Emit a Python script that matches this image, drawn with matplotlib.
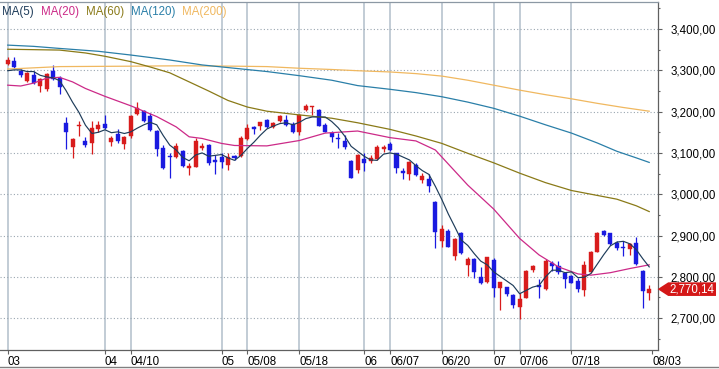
import matplotlib
matplotlib.use("Agg")
import matplotlib.pyplot as plt
from matplotlib.patches import Polygon
from matplotlib.lines import Line2D
import numpy as np

plt.rcParams['font.family'] = ['Liberation Sans', 'DejaVu Sans']

# ---------------- data ----------------
opens = [3315, 3322.5, 3298, 3275, 3289, 3263, 3254, 3298, 3282, 3172,
         3115, 3164, 3129.5, 3125, 3158, 3170, 3127, 3145, 3121.6, 3141.6,
         3194, 3201.5, 3190, 3154, 3112.6, 3092.5, 3089, 3104.6, 3062.7, 3066.6,
         3111, 3119, 3082.8, 3089, 3070.7, 3093, 3093.7, 3133, 3162, 3165,
         3179.7, 3162, 3178, 3179.7, 3169, 3150, 3204, 3211, 3204, 3167.5,
         3147.5, 3137, 3129.5, 3080.4, 3058.6, 3085, 3081, 3084.5, 3109, 3121.6,
         3099, 3056, 3049, 3070.7, 3034.4, 3036, 2981.8, 2887.4, 2911.6, 2850.4,
         2905.3, 2828.6, 2843, 2798.8, 2788, 2840.7, 2773.6, 2774.6, 2756, 2727.6,
         2749.4, 2816.5, 2780, 2769.7, 2832.7, 2825.4, 2808.5, 2801.9, 2789, 2768,
         2811.6, 2860.8, 2910.9, 2905.3, 2881.1, 2872.9, 2866.6, 2882.6, 2814.8, 2761.5]
highs = [3332, 3333, 3302, 3295, 3299, 3281, 3293, 3313, 3286, 3186,
         3135, 3177, 3139, 3177, 3177, 3192, 3141, 3157, 3141.6, 3192,
         3222.5, 3204, 3196, 3155, 3119, 3099, 3124.7, 3107, 3075, 3135,
         3123, 3121.6, 3095, 3100.5, 3099, 3095, 3141, 3169, 3165, 3175.5,
         3182, 3175.5, 3192, 3192, 3175.5, 3194, 3218.4, 3213.6, 3206, 3172,
         3154, 3147.5, 3143, 3083, 3096.6, 3099, 3095, 3119, 3119, 3127,
         3100.5, 3064, 3080.4, 3076.3, 3050.6, 3049, 2984.3, 2925.4, 2915, 2893.2,
         2909.2, 2848.7, 2844.8, 2824.5, 2848.7, 2844.8, 2788, 2776, 2758.4, 2761.5,
         2816.5, 2828.6, 2794, 2842.4, 2838.3, 2838.3, 2811.6, 2804.4, 2797.1, 2839,
         2862.5, 2909.2, 2913.3, 2906.8, 2887.4, 2886.7, 2882.6, 2897.1, 2816.5, 2780]
lows = [3313, 3306, 3284.5, 3271, 3266, 3248, 3251, 3276.5, 3242, 3109,
        3088, 3141, 3115, 3097, 3151, 3158, 3117, 3124, 3109, 3137,
        3192, 3175.5, 3154, 3092.5, 3062, 3040, 3087, 3067, 3046.5, 3066,
        3107, 3070.7, 3049, 3062.7, 3058.6, 3083, 3089, 3131, 3145, 3155,
        3159.6, 3159.6, 3175.5, 3165, 3149, 3143, 3202, 3192, 3165, 3150,
        3127, 3112.6, 3109.5, 3038.5, 3051, 3057, 3075, 3083, 3103, 3105.3,
        3052, 3036, 3034.4, 3044.8, 3027.8, 3006, 2870.5, 2873, 2871.5, 2840.7,
        2855.2, 2802.7, 2797.8, 2781.8, 2785.7, 2751.8, 2719.6, 2753.5, 2723.7, 2697.1,
        2749, 2812.3, 2749.4, 2768, 2814.8, 2808, 2774, 2784.2, 2764.4, 2753.5,
        2808.5, 2859.3, 2898.8, 2877, 2864.9, 2850.4, 2852.8, 2828.6, 2725.2, 2743.8]
closes = [3325, 3309, 3289, 3293, 3268.5, 3278, 3290, 3278, 3260, 3151,
          3134, 3167.5, 3120, 3161.5, 3167.5, 3161, 3137, 3129, 3139, 3189,
          3208, 3177, 3155, 3109, 3062.7, 3089, 3117, 3068, 3069, 3129.5,
          3117.4, 3075, 3078.7, 3078.7, 3090.8, 3087, 3136, 3161, 3157, 3174,
          3162, 3172, 3190, 3167.5, 3150, 3192, 3213.6, 3213.6, 3166, 3151,
          3137.8, 3134, 3115, 3040, 3095, 3075, 3088.4, 3113.6, 3113.6, 3107,
          3064, 3050.6, 3078.7, 3046.5, 3044, 3020, 2907.8, 2915, 2873, 2890.8,
          2858.8, 2843, 2812.3, 2785.7, 2847.2, 2773.6, 2786.7, 2757.6, 2731.7, 2746.2,
          2814, 2826.2, 2776, 2838.3, 2826.2, 2812.8, 2795.4, 2785, 2771.2, 2828.6,
          2860.8, 2906.8, 2901.2, 2879.4, 2870.5, 2870.5, 2879.4, 2831, 2766.4, 2770.14]

ma5 = [3299, 3301, 3301, 3297, 3297, 3288, 3284, 3282, 3275, 3251,
       3223, 3198, 3167, 3147, 3150, 3156, 3149, 3151, 3147, 3151,
       3160, 3168, 3174, 3168, 3142, 3119, 3107, 3089, 3081, 3095,
       3100, 3092, 3094, 3096, 3088, 3082, 3094, 3111, 3126, 3143,
       3158, 3165, 3171, 3173, 3168, 3174, 3183, 3187, 3187, 3187,
       3176, 3161, 3141, 3116, 3104, 3092, 3083, 3082, 3097, 3100,
       3097, 3090, 3083, 3069, 3057, 3048, 3019, 2987, 2952, 2921,
       2889, 2876, 2856, 2838, 2829, 2812, 2801, 2790, 2779, 2759,
       2767, 2775, 2779, 2800, 2816, 2816, 2810, 2812, 2798, 2799,
       2808, 2831, 2854, 2875, 2884, 2886, 2880, 2866, 2844, 2824]

ma20_idx = [0, 2, 4, 6, 8, 10, 12, 15, 19, 23, 26, 28, 30, 33, 35, 40, 45, 49,
            54, 59, 63, 66, 68, 71, 75, 79, 82, 85, 88, 90, 93, 96, 99]
ma20_val = [3264, 3262, 3269, 3281, 3283, 3272, 3256, 3237, 3214, 3188, 3163, 3139,
            3135, 3123, 3118, 3117, 3130, 3148, 3153, 3137, 3129, 3107, 3073, 3022,
            2964, 2893, 2853, 2824, 2807, 2804, 2810, 2820, 2829]

ma60_idx = [0, 8, 12, 15, 19, 22, 25, 28, 31, 34, 37, 40, 45, 50, 54, 59, 63, 67,
            71, 75, 79, 83, 87, 91, 94, 97, 99]
ma60_val = [3351, 3349, 3342, 3334, 3321, 3308, 3294, 3272, 3250, 3227, 3211, 3201,
            3192, 3184, 3173, 3157, 3141, 3123, 3099, 3076, 3051, 3028, 3009, 2997,
            2988, 2972, 2958]

ma120_idx = [0, 4, 8, 14, 19, 25, 30, 35, 40, 45, 50, 54, 59, 63, 67, 71, 75, 79,
             83, 87, 91, 94, 97, 99]
ma120_val = [3361, 3358, 3353, 3346, 3337, 3325, 3313, 3305, 3297, 3287, 3276, 3263,
             3254, 3246, 3236, 3223, 3208, 3189, 3168, 3148, 3124, 3104, 3088, 3077]

ma200_idx = [0, 8, 19, 27, 35, 40, 45, 50, 54, 59, 63, 67, 71, 75, 79, 83, 87, 91,
             95, 99]
ma200_val = [3303, 3309, 3310, 3311, 3310, 3309, 3305, 3302, 3299, 3296, 3292, 3286,
             3276, 3264, 3252, 3241, 3231, 3220, 3210, 3201]

tick_idx = [0, 15, 19, 33, 37, 45, 55, 59, 67, 75, 79, 87, 99.5]
tick_labels = ["03", "04", "04/10", "05", "05/08", "05/18", "06", "06/07",
               "06/20", "07", "07/06", "07/18", "08/03"]

ytick_vals = [2700, 2800, 2900, 3000, 3100, 3200, 3300, 3400]
ytick_labels = ["2,700,00", "2,800,00", "2,900,00", "3,000,00", "3,100,00",
                "3,200,00", "3,300,00", "3,400,00"]
yminor_vals = [2650, 2750, 2850, 2950, 3050, 3150, 3250, 3350, 3450]

last_label = "2,770,14"
legend_names = ["MA(5)", "MA(20)", "MA(60)", "MA(120)", "MA(200)"]

# ---------------- style ----------------
UP = '#d81c1c'
DN = '#1a1ae0'
C_MA5 = '#1e3c5a'
C_MA20 = '#cc2a88'
C_MA60 = '#8a7a18'
C_MA120 = '#2a7fa8'
C_MA200 = '#f0b860'

W, H = 719, 369
fig = plt.figure(figsize=(W / 100, H / 100), dpi=100)
fig.patch.set_facecolor('white')
ax = fig.add_axes([0 / W, (H - 350) / H, 657.7 / W, (350 - 2) / H])
ax.set_xlim(-1.19, 100.31)
ax.set_ylim(2622.8, 3465.4)

# grid
for t in tick_idx[:-1]:
    ax.axvline(t, color='#b2bfca', lw=1.1, zorder=1)
for v in ytick_vals:
    ax.axhline(v, color='#9aa6b0', lw=0.8, ls=(0, (1, 2)), zorder=1)

# candles
x = np.arange(len(closes))
o = np.array(opens)
c = np.array(closes)
colors = [UP if cc >= oo else DN for oo, cc in zip(o, c)]
ax.vlines(x, lows, highs, colors=colors, lw=0.9, zorder=3)
bottoms = np.minimum(o, c)
heights = np.maximum(np.abs(c - o), 1.8)
ax.bar(x, heights, bottom=bottoms, width=0.62, color=colors, edgecolor=colors,
       lw=0.3, zorder=4)

# moving averages
ax.plot(ma200_idx, ma200_val, color=C_MA200, lw=0.9, zorder=5)
ax.plot(ma120_idx, ma120_val, color=C_MA120, lw=0.9, zorder=5)
ax.plot(ma60_idx, ma60_val, color=C_MA60, lw=0.9, zorder=5)
ax.plot(ma20_idx, ma20_val, color=C_MA20, lw=0.9, zorder=5)
ax.plot(x, ma5, color=C_MA5, lw=0.85, zorder=6)

# spines
ax.spines['left'].set_visible(False)
ax.spines['top'].set_color('#8c98a4')
ax.spines['bottom'].set_color('#606060')
ax.spines['right'].set_color('#606060')
for s in ax.spines.values():
    s.set_linewidth(0.9)

# y axis on the right
ax.yaxis.tick_right()
ax.set_yticks(ytick_vals)
ax.set_yticklabels(ytick_labels)
ax.set_yticks(yminor_vals, minor=True)
ax.tick_params(axis='y', which='major', direction='out', length=3, width=0.8,
               colors='#606060', labelcolor='black', labelsize=8.3, pad=6)
ax.tick_params(axis='y', which='minor', direction='out', length=1.5, width=0.8,
               colors='#606060')

# x axis
ax.set_xticks(tick_idx)
ax.set_xticklabels(tick_labels)
ax.tick_params(axis='x', direction='out', length=3, width=0.8, colors='#606060',
               labelcolor='black', labelsize=8.3, pad=1.5)
for lab in ax.get_xticklabels():
    lab.set_ha('left')

# bottom frame line
fig.add_artist(Line2D([0, 1], [(H - 366.7) / H] * 2, transform=fig.transFigure,
                      color='#808080', lw=1.0))

# legend texts
leg_colors = [C_MA5, C_MA20, C_MA60, C_MA120, C_MA200]
leg_x = [2, 41, 86, 131, 182]
for name, col, px in zip(legend_names, leg_colors, leg_x):
    fig.text(px / W, (H - 12) / H, name, color=col, fontsize=8.3, va='center', ha='left')

# current price tag
yc = ax.transData.transform((0, closes[-1]))[1]
x0 = ax.transAxes.transform((1, 0))[0]
hh = 6.8
poly = Polygon([(x0, yc), (x0 + 10.5, yc + hh), (716, yc + hh), (716, yc - hh),
                (x0 + 10.5, yc - hh)], closed=True, transform=None,
               facecolor='#d41818', edgecolor='none', zorder=10)
fig.add_artist(poly)
fig.text((x0 + 11.5) / W, yc / H, last_label, color='white', fontsize=8.3,
         va='center', ha='left', zorder=11)

fig.savefig('out.png', dpi=100, facecolor='white')
